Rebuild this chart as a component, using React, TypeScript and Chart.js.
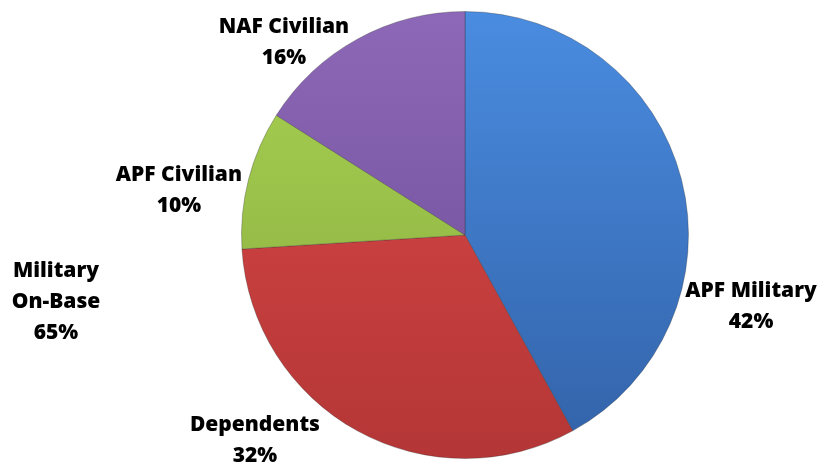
import React, { useEffect, useRef } from "react";
import { Chart, registerables } from "chart.js";

Chart.register(...registerables);

const categories = ["APF Military", "Dependents", "APF Civilian", "NAF Civilian"];
const shares = [42, 32, 10, 16];
const extraLabel = ["Military", "On-Base"];
const extraShare = 65;

const topColors = ["#4a8ce0", "#dc4a48", "#a9d252", "#8d68b8"];
const bottomColors = ["#3262a8", "#b43636", "#86aa3e", "#6a4a92"];

// label anchors relative to pie center, as fractions of the radius
const labelAnchors: [number, number][] = [
  [1.28, 0.32],
  [-0.94, 0.92],
  [-1.28, -0.2],
  [-0.81, -0.86],
];
const extraAnchor: [number, number] = [-1.83, 0.3];

const FONT = "800 21px 'Open Sans', sans-serif";
const LINE = 31;

const labelPlugin = {
  id: "pieLabels",
  afterDraw(chart: any) {
    const meta = chart.getDatasetMeta(0);
    if (!meta.data.length) return;
    const arc = meta.data[0];
    const cx = arc.x;
    const cy = arc.y;
    const r = arc.outerRadius;
    const ctx = chart.ctx;
    ctx.save();
    ctx.font = FONT;
    ctx.fillStyle = "#000";
    ctx.textAlign = "center";
    ctx.textBaseline = "middle";
    const drawBlock = (lines: string[], a: [number, number]) => {
      const x = cx + a[0] * r;
      const y = cy + a[1] * r;
      const start = y - ((lines.length - 1) * LINE) / 2;
      lines.forEach((t, i) => ctx.fillText(t, x, start + i * LINE));
    };
    categories.forEach((c, i) => {
      drawBlock([c, shares[i] + "%"], labelAnchors[i]);
    });
    drawBlock([...extraLabel, extraShare + "%"], extraAnchor);
    ctx.restore();
  },
};

export default function App() {
  const ref = useRef<HTMLCanvasElement>(null);
  useEffect(() => {
    document.body.style.margin = "0";
    const canvas = ref.current!;
    const chart = new Chart(canvas, {
      type: "pie",
      data: {
        labels: categories,
        datasets: [
          {
            data: shares,
            backgroundColor: (ctx: any) => {
              const area = ctx.chart.chartArea;
              const i = ctx.dataIndex;
              if (!area) return topColors[i];
              const g = ctx.chart.ctx.createLinearGradient(0, area.top, 0, area.bottom);
              g.addColorStop(0, topColors[i]);
              g.addColorStop(1, bottomColors[i]);
              return g;
            },
            borderColor: "rgba(40,40,40,0.3)",
            borderWidth: 1,
          },
        ],
      },
      options: {
        animation: false,
        responsive: false,
        maintainAspectRatio: false,
        layout: { padding: { left: 241, right: 134, top: 11, bottom: 6 } },
        plugins: {
          legend: { display: false },
          tooltip: { enabled: false },
        },
      },
      plugins: [labelPlugin],
    });
    return () => chart.destroy();
  }, []);
  return (
    <div style={{ position: "relative", width: 823, height: 465, background: "#fff" }}>
      <canvas ref={ref} width={823} height={465} style={{ display: "block" }} />
    </div>
  );
}
